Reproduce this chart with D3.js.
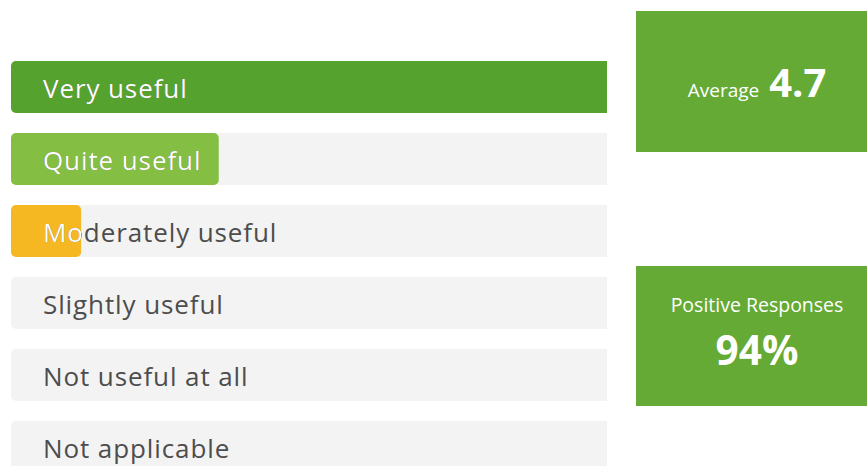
<!DOCTYPE html>
<html><head><meta charset="utf-8">
<script src="https://cdn.jsdelivr.net/npm/d3@7/dist/d3.min.js"></script>
<style>html,body{margin:0;padding:0;background:#fff;overflow:hidden}</style>
</head><body>
<svg id="c" width="867" height="466"></svg>
<script>
const categories = ["Very useful","Quite useful","Moderately useful","Slightly useful","Not useful at all","Not applicable"];
const values = [68, 23.7, 8, 0, 0, 0];
const barColors = ["#56a22e","#84be42","#f5b823","#84be42","#84be42","#84be42"];
const summaryLabels = ["Average","Positive Responses"];
const summaryValues = ["4.7","94%"];

const svg = d3.select("#c");
const font = "'Open Sans', sans-serif";
const x = d3.scaleLinear().domain([0, d3.max(values)]).range([11, 607]);
const y = d3.scaleBand().domain(categories).range([61, 61 + 72*5 + 52]).paddingInner(20/72).paddingOuter(0);
const bh = y.bandwidth();
const rows = categories.map((c,i)=>({c, v: values[i], col: barColors[i], i}));

const defs = svg.append("defs");
defs.append("clipPath").attr("id","area").append("rect").attr("x",0).attr("y",0).attr("width",607).attr("height",466);

const g = svg.append("g").attr("clip-path","url(#area)");
const row = g.selectAll("g.row").data(rows).join("g").attr("class","row");
row.append("rect").attr("x",11).attr("y",d=>y(d.c)).attr("width",620).attr("height",bh).attr("rx",5).attr("fill","#f3f3f3");
row.each(function(d){
  defs.append("clipPath").attr("id","bc"+d.i).append("rect")
    .attr("x",x(0)).attr("y",y(d.c)).attr("width",x(d.v)-x(0) + (d.i===0?20:0)).attr("height",bh).attr("rx",5);
});
row.filter(d=>d.v>0).append("rect").attr("x",x(0)).attr("y",d=>y(d.c))
  .attr("width",d=>x(d.v)-x(0) + (d.i===0?20:0)).attr("height",bh).attr("rx",5).attr("fill",d=>d.col);
const labelAttrs = sel => sel.attr("x",43).attr("y",d=>y(d.c)+36.5).attr("font-family",font)
  .attr("font-size",26).attr("letter-spacing",0.9).text(d=>d.c);
row.append("text").call(labelAttrs).attr("fill","#4d4d4d");
row.append("text").call(labelAttrs).attr("fill","#ffffff").attr("clip-path",d=>"url(#bc"+d.i+")");

// summary boxes
const boxes = [{y:11,h:141},{y:266,h:140}];
svg.selectAll("rect.box").data(boxes).join("rect").attr("class","box")
  .attr("x",636).attr("y",d=>d.y).attr("width",242).attr("height",d=>d.h).attr("fill","#64aa35");
const cx = 757;
const t1 = svg.append("text").attr("x",cx).attr("y",97).attr("text-anchor","middle").attr("fill","#fff").attr("font-family",font);
t1.append("tspan").attr("font-size",19).text(summaryLabels[0]+" ");
t1.append("tspan").attr("dx",5).attr("font-size",40).attr("font-weight","bold").text(summaryValues[0]);
svg.append("text").attr("x",cx).attr("y",311.5).attr("text-anchor","middle").attr("fill","#fff").attr("font-family",font)
  .attr("font-size",19.5).text(summaryLabels[1]);
svg.append("text").attr("x",cx).attr("y",365).attr("text-anchor","middle").attr("fill","#fff").attr("font-family",font)
  .attr("font-size",40.5).attr("font-weight","bold").text(summaryValues[1]);
</script>
</body></html>
